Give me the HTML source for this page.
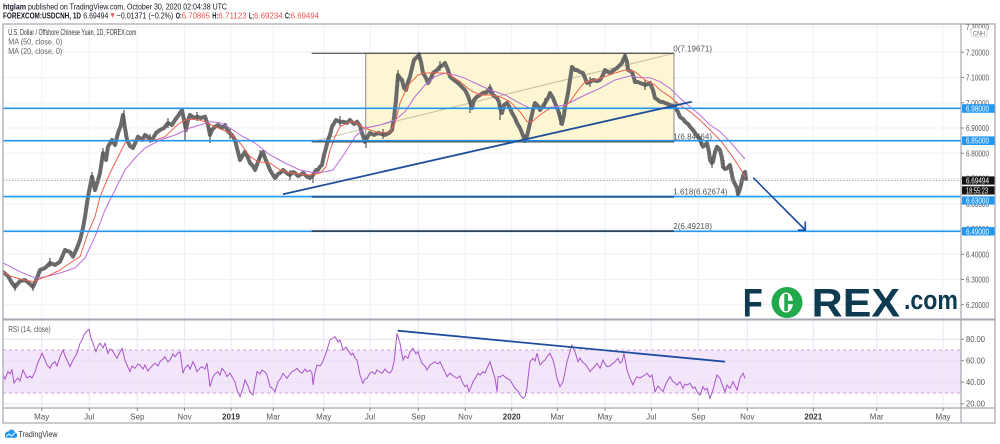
<!DOCTYPE html>
<html><head><meta charset="utf-8">
<style>
html,body{margin:0;padding:0;background:#fff;}
svg{display:block;font-family:"Liberation Sans",Arial,sans-serif;}
</style></head>
<body>
<svg width="1000" height="444" viewBox="0 0 1000 444" xmlns="http://www.w3.org/2000/svg">
<defs>
<clipPath id="cm"><rect x="3" y="24" width="958" height="295.5"/></clipPath>
<clipPath id="cr"><rect x="3" y="320" width="958" height="88"/></clipPath>
<clipPath id="ca"><rect x="962" y="24" width="33" height="295"/></clipPath>
</defs>
<rect width="1000" height="444" fill="#fff"/>

<!-- header -->
<text x="3" y="9.5" font-size="8.5" font-weight="bold" fill="#131722" textLength="23" lengthAdjust="spacingAndGlyphs">htglam</text>
<text x="28" y="9.5" font-size="8.5" fill="#131722" textLength="199" lengthAdjust="spacingAndGlyphs">published on TradingView.com, October 30, 2020 02:04:38 UTC</text>
<g font-size="8.5">
<text x="3" y="18.5" font-weight="bold" fill="#131722" textLength="78" lengthAdjust="spacingAndGlyphs">FOREXCOM:USDCNH, 1D</text>
<text x="83.3" y="18.5" fill="#131722" textLength="25" lengthAdjust="spacingAndGlyphs">6.69494</text>
<path d="M110.5 13.2h4l-2 4.5z" fill="#ef5350"/>
<text x="116.7" y="18.5" fill="#131722" textLength="56.6" lengthAdjust="spacingAndGlyphs">−0.01371 (−0.2%)</text>
<text x="175.7" y="18.5" font-weight="bold" fill="#131722" textLength="6" lengthAdjust="spacingAndGlyphs">O:</text>
<text x="181.7" y="18.5" fill="#ef5350" textLength="28.3" lengthAdjust="spacingAndGlyphs">6.70865</text>
<text x="212.3" y="18.5" font-weight="bold" fill="#131722" textLength="6" lengthAdjust="spacingAndGlyphs">H:</text>
<text x="218.3" y="18.5" fill="#ef5350" textLength="28.4" lengthAdjust="spacingAndGlyphs">6.71123</text>
<text x="249" y="18.5" font-weight="bold" fill="#131722" textLength="5" lengthAdjust="spacingAndGlyphs">L:</text>
<text x="254" y="18.5" fill="#ef5350" textLength="28.7" lengthAdjust="spacingAndGlyphs">6.69234</text>
<text x="285" y="18.5" font-weight="bold" fill="#131722" textLength="5.7" lengthAdjust="spacingAndGlyphs">C:</text>
<text x="290.7" y="18.5" fill="#ef5350" textLength="28.3" lengthAdjust="spacingAndGlyphs">6.69494</text>
</g>

<!-- grid -->
<g stroke="#eef1f6" stroke-width="1">
<path d="M3 27.05H961M3 52.3H961M3 77.55H961M3 102.8H961M3 128.05H961M3 153.3H961M3 178.55H961M3 203.8H961M3 229.05H961M3 254.3H961M3 279.55H961M3 304.8H961"/>
<path d="M41.7 24V408M89.3 24V408M137.3 24V408M184.5 24V408M231 24V408M273.3 24V408M323.7 24V408M370 24V408M418.3 24V408M465.3 24V408M511.7 24V408M557.3 24V408M605 24V408M651.3 24V408M698.3 24V408M747.3 24V408M813.3 24V408M876.7 24V408M943 24V408"/>
</g>

<!-- RSI band -->
<rect x="3" y="350" width="958" height="43" fill="#f3e6fb"/>
<g stroke="#e8e1f0" stroke-width="1">
<path d="M3 339.2H961M3 360.7H961M3 382.2H961M3 403.7H961"/>
</g>
<path d="M3 350H961M3 393H961" stroke="#c9a3d9" stroke-width="1" stroke-dasharray="3,3"/>
<path d="M41.7 320V408M89.3 320V408M137.3 320V408M184.5 320V408M231 320V408M273.3 320V408M323.7 320V408M370 320V408M418.3 320V408M465.3 320V408M511.7 320V408M557.3 320V408M605 320V408M651.3 320V408M698.3 320V408M747.3 320V408M813.3 320V408M876.7 320V408M943 320V408" stroke="#ece6f3" stroke-width="1"/>

<g clip-path="url(#cm)">
<!-- fib box -->
<rect x="365.7" y="53.3" width="308.3" height="88.4" fill="#fcf6d2" stroke="#8a8a8a" stroke-width="1"/>
<line x1="311.7" y1="141.7" x2="674" y2="53.3" stroke="#c9c0a2" stroke-width="1"/>
<!-- price ribbon -->
<polyline fill="none" stroke="#6a6a6a" stroke-width="4" stroke-linejoin="round" stroke-linecap="round" points="3,272 8,276 12,283 15,287 20,281 25,280 30,284 33,287 37,278 40,270 45,268 50,263 55,265 60,261.7 65,250 70,252 73,256.7 77,248 80,240 83,228 85,216.7 88,196.7 92,176.7 95,190 98,180 100,173 103,153 106,160 108,146.7 112,140 115,145 118,133 121,125 123,115 125,128 127,140 130,146 133,148 138,136.7 142,140 145,135 149,138 152,140 156,133 160,130 164,128 168,123 172,125 175,120 178,116 182,110 184,120 186,130 188,120 190,115 194,118 197,116.7 201,118 205,116.7 208,125 210,135 212,130 215,126.7 218,125 222,128 225,125 228,131.7 232,135 235,140 238,152 240,160 243,155 245,151.7 248,158 250,163 253,166 255,170 258,162 260,156.7 263,152 265,158 268,165 270,170 273,175 275,178 278,174 280,173 283,170 285,171.7 288,174 290,175 293,172 295,173 298,176 300,175 303,173 307,176.7 310,178 313,175 316,170 318,170 320,166.7 322,165 324,155 326,148 328,140 330,135 332,126.7 336,120 340,122 343,121.7 347,123 350,120 354,124 357,121.7 360,126 362,133 365,142 366,140 368,136 370,133 374,135 378,133 382,134 385,135 389,133 392,130 394,118 396,100 398,75 400,78 402,80 404,88 406,90 408,82 410,76.7 412,68 414,60 417,57 419,55 421,62 423,73 426,78 428,83 431,78 433,73 437,70 440,66.7 443,65 445,63 448,70 450,76.7 454,80 458,83 462,87 465,90 468,96 470,102 472,108 474,100 477,96.7 480,95 483,93 487,92 490,88 493,95 497,98 499,102 500,108 502,113 504,105 507,103 510,108 512,113 515,118 517,123 520,128 522,133 524,138 525,141 527,136 530,123 533,110 535,103 538,106 540,110 543,106 545,103 548,98 550,93 553,98 555,103 558,110 560,117 562,124 564,115 565,107 567,98 568,93 570,80 572,67 575,70 577,70 580,72 583,73 585,78 587,83 590,82 593,80 597,81 600,80 603,75 605,70 608,72 610,73 614,70 617,68 620,65 622,63 624,58 625,56 627,62 628,70 630,71 632,72 634,78 635,82 638,82 640,83 643,84 645,85 648,84 650,83 653,90 655,98 658,100 660,101.7 663,102 665,103 668,104 670,105 673,106 676,108.3 678,112 680,117 683,119 685,121.7 688,124 690,126.7 693,130 695,133 698,137 700,140 703,146.7 705,145 707,143 709,152 710,160 712,163 713,161.7 715,152 717,146.7 720,150 722,158 723,166.7 725,169 727,168.3 730,165 731,170 733,180 735,184 737,188 738,194 739,192 741,185 742,180 744,173 745,172 746,179"/>
<path d="M15 283V291M33 283V291M50 258V267M92 172V182M103 148V158M124 110V125M150 134V143M168 118V128M185 118V140M197 112V121M210 128V143M230 128V139M260 150V160M290 170V180M313 172V183M340 116V126M366 135V148M383 129V139M398 70V82M419 52V60M440 61V71M470 98V113M490 84V94M500 104V120M525 135V143M545 98V108M560 112V125M590 77V87M625 53V60M645 80V90M676 102V112M701 136V146M712 157V168M738 188V197M724 160V170" stroke="#555" stroke-width="1.2"/>
<!-- moving averages -->
<polyline fill="none" stroke="#bb6cdb" stroke-width="1" points="3,263 20,271.7 35,278 45,277 60,273 75,268 85,258 95,236.7 105,210 115,190 125,170 135,158 145,148 160,140 175,135 190,128 200,125 210,121.7 220,122.7 230,128 240,135 255,143 270,155 285,163 300,170 315,173 325,171.7 333,170 345,153 355,136.7 365,128 380,125 395,120 405,111.7 415,96.7 425,85 435,76.7 445,73 455,75 465,78.3 475,83 490,90 505,95 520,103.3 530,108.3 540,108.3 555,106.7 565,105 575,100 585,95 600,88.3 615,80 630,76 640,77.7 650,77.7 660,81.7 670,88.3 680,98.3 690,106.7 700,115 710,125 720,131.7 730,141.7 740,153.3 745,159"/>
<polyline fill="none" stroke="#f0604f" stroke-width="1" points="3,272 10,276 20,279 33,281.7 50,275 60,270 70,263 80,256.7 88,233 95,216.7 100,196.7 110,173 120,153 125,143 132,140 140,140 155,140 165,136.7 175,127 180,123 185,120 195,119 205,121.7 215,126.7 230,133 240,143 250,156.7 258,161.7 270,163 280,170 290,173 300,174 310,175 316,174 320,173 326,166.7 330,150 335,136.7 340,126.7 350,121.7 355,121.7 362,126.7 370,130 380,133 390,131.7 395,123 400,103 405,91.7 410,83 418,75 425,73 435,73 445,73 450,75 460,81.7 470,90 480,95 490,95 500,96.7 510,101.7 520,111.7 527,121.7 532,121.7 540,115 550,108.3 560,108.3 565,106.7 570,101.7 577,91.7 585,81.7 595,80 605,76.7 615,73 625,70 635,71.7 645,80 655,85 660,90 670,96.7 680,105 690,111.7 700,120 710,130 720,140 730,153.3 737,163.3 745,176.7"/>
<!-- last price dotted -->
<line x1="3" y1="180.3" x2="961" y2="180.3" stroke="#9a9a9a" stroke-width="0.8" stroke-dasharray="1.5,1.5"/>
<!-- blue horizontal lines -->
<g stroke="#2196f3" stroke-width="1.6">
<line x1="3" y1="108.3" x2="961" y2="108.3"/>
<line x1="3" y1="140.7" x2="961" y2="140.7"/>
<line x1="3" y1="196.6" x2="961" y2="196.6"/>
<line x1="3" y1="231.3" x2="961" y2="231.3"/>
</g>
<!-- fib level lines -->
<line x1="311.7" y1="53.3" x2="674" y2="53.3" stroke="#4a4a4a" stroke-width="1.2"/>
<line x1="311.7" y1="141.9" x2="674" y2="141.9" stroke="#555" stroke-width="1.1"/>
<line x1="311.7" y1="196.8" x2="674" y2="196.8" stroke="#1f5aa6" stroke-width="2"/>
<line x1="311.7" y1="231.1" x2="674" y2="231.1" stroke="#2a3a4a" stroke-width="1.6"/>
<g font-size="8" fill="#555">
<text x="673.3" y="51.5">0(7.19671)</text>
<text x="673.3" y="139.5">1(6.84464)</text>
<text x="673.3" y="194.5">1.618(6.62674)</text>
<text x="673.3" y="229">2(6.49218)</text>
</g>
<!-- trendline -->
<line x1="283" y1="194.3" x2="691.7" y2="101.7" stroke="#1f4e9c" stroke-width="1.8"/>
<!-- arrow -->
<g stroke="#1f4e9c" stroke-width="1.6" fill="none">
<line x1="753.3" y1="177.7" x2="805.3" y2="230"/>
<path d="M805.3 221.5V230.2H797.8"/>
</g>
<!-- FOREX logo -->
<g fill="#0f3b51" font-weight="bold">
<text x="742.7" y="316.7" font-size="40" textLength="20" lengthAdjust="spacingAndGlyphs">F</text>
<text x="811.7" y="316.7" font-size="40" textLength="88.3" lengthAdjust="spacingAndGlyphs">REX</text>
<text x="904" y="309" font-size="27" textLength="54" lengthAdjust="spacingAndGlyphs">.com</text>
</g>
<circle cx="787" cy="302.5" r="15.5" fill="#22a94b"/>
<ellipse cx="786" cy="302.5" rx="7" ry="10" fill="#fff"/>
<rect x="784.3" y="294" width="3.6" height="17" fill="#22a94b"/>
<rect x="786" y="300.8" width="14" height="3.4" fill="#22a94b"/>
</g>

<!-- RSI -->
<g clip-path="url(#cr)">
<polyline fill="none" stroke="#a855c8" stroke-width="1" points="3,375 5,379 8,371.7 10,374 12,370 14,383 16,380 18,378 20,381 23,370 25,374 27,378 30,376 32,378 35,372 37,365 40,358 42,353.3 45,360 47,365 50,368.3 52,364 55,361.7 57,366 60,356.7 63,350 65,356 67,360 70,366.7 73,360 75,357 77,353.3 80,343.3 82,340 84,335 86,332 89,329.3 91,338 93,343.3 96,351.7 98,346 100,343.3 103,348 105,343.3 108,353.3 110,349 112,350 115,355 117,358.3 120,352 122,348.3 125,360 127,365 130,371.7 132,366 135,368.3 138,364 140,365 143,369 145,365 148,371 150,368.3 153,365 155,363.3 158,366 160,361.7 163,359 165,356.7 168,362 170,360 173,354 175,356.7 178,353 180,351.7 183,373.3 185,368 188,365 190,369 193,361.7 195,366 197,371.7 200,368 202,366.7 205,369 207,363.3 210,386.7 213,376.7 215,374 218,371.7 220,375 222,368.3 225,372 227,376.7 230,373 232,376.7 235,382 237,390 240,396.7 243,388 245,380 248,386 250,391.7 253,395 255,383 257,371.7 260,374 262,370 265,372 267,375 270,386.7 273,389 275,391.7 278,381.7 281,378 283,373.3 287,378.3 290,374 292,371.7 295,370 297,368.3 300,372 302,373.3 305,369 307,371.7 310,370 312,373.3 313,385 315,372 317,365 320,366 322,363.3 325,356 327,350 330,340 333,338 335,336.7 338,342 340,340 343,350 346,347 348,350 351,355 353,353.3 355,358 357,360 360,375 363,383.3 365,379 367,378.3 370,373 372,371.7 375,374 377,370 380,372 382,373.3 385,369 387,371.7 390,373 392,370 394,362 395,353.3 397,333.3 399,340 400,343.3 403,360 405,356 408,358.3 410,352 413,348.3 416,354 418,351.7 420,358 422,363.3 425,366 427,370 430,365 433,363 435,361.7 438,364 440,361.7 443,368.3 445,372 447,376.7 450,373 452,375 455,377 457,378.3 460,376 462,381.7 465,386.7 467,385 469,391.7 471,387 473,381.7 476,377 478,373.3 480,375 483,371.7 485,373 487,368.3 490,361.7 493,371.7 495,378 497,391.7 498,376.7 500,377 503,375 505,377 507,378.3 510,380 512,383.3 515,388.3 518,391 520,395 523,398.3 525,396.7 527,388 528,378.3 530,361.7 533,358.3 535,361 537,353.3 540,365 543,361.7 545,360 547,356.7 550,353.3 553,360 555,368 557,378.3 560,386.7 563,381.7 565,372 567,361.7 570,351.7 572,345 575,351.7 578,361.7 580,358 582,361.7 585,364 587,366.7 590,371.7 593,368.3 595,366 597,363.3 600,368.3 603,360 605,364 607,366.7 610,366 612,364 615,361.7 618,358.3 620,363 622,361.7 624,353.3 627,370 630,378.3 633,385 635,380 637,376.7 640,378 642,376.7 645,375 647,373.3 650,377 652,375 655,391.7 658,386 660,388.3 663,391.7 665,386 667,381.7 670,376.7 673,381.7 675,383 677,385 680,381.7 683,388.3 685,384 687,385 690,383.3 693,388.3 695,387 697,391.7 700,395 703,386.7 705,390 707,388.3 710,398.3 713,390 715,382 717,375 720,378.3 723,386.7 725,391.7 727,385 730,388.3 733,381.7 735,386 737,390 740,378.3 743,373.3 745,378.3"/>
<line x1="397.7" y1="330.7" x2="725" y2="361.7" stroke="#1f4e9c" stroke-width="1.8"/>
</g>

<!-- legend -->
<text x="8.3" y="35" font-size="8" fill="#333" textLength="128" lengthAdjust="spacingAndGlyphs">U.S. Dollar / Offshore Chinese Yuan, 1D, FOREX.com</text>
<text x="8.3" y="44.5" font-size="8" fill="#666" textLength="54" lengthAdjust="spacingAndGlyphs">MA (50, close, 0)</text>
<text x="8.3" y="54" font-size="8" fill="#666" textLength="54" lengthAdjust="spacingAndGlyphs">MA (20, close, 0)</text>
<text x="8.3" y="332" font-size="8" fill="#555" textLength="42.4" lengthAdjust="spacingAndGlyphs">RSI (14, close)</text>

<!-- borders -->
<rect x="3" y="24" width="992" height="399" fill="none" stroke="#a4a7b0" stroke-width="1.2"/>
<line x1="961" y1="24" x2="961" y2="423" stroke="#a4a7b0" stroke-width="1.2"/>
<line x1="3" y1="319.5" x2="995" y2="319.5" stroke="#a4a7b0" stroke-width="2"/>
<line x1="3" y1="408" x2="995" y2="408" stroke="#a4a7b0" stroke-width="1.2"/>

<!-- price axis labels -->
<g stroke="#888" stroke-width="1">
<path d="M961 52.3h3M961 77.55h3M961 102.8h3M961 128.05h3M961 153.3h3M961 178.55h3M961 203.8h3M961 229.05h3M961 254.3h3M961 279.55h3M961 304.8h3M961 339.2h3M961 360.7h3M961 382.2h3M961 403.7h3"/>
</g>
<g font-size="7.8" fill="#555" clip-path="url(#ca)">
<text x="966" y="30" textLength="23" lengthAdjust="spacingAndGlyphs">7.30000</text>
<text x="966" y="55.3" textLength="23" lengthAdjust="spacingAndGlyphs">7.20000</text>
<text x="966" y="80.5" textLength="23" lengthAdjust="spacingAndGlyphs">7.10000</text>
<text x="966" y="105.8" textLength="23" lengthAdjust="spacingAndGlyphs">7.00000</text>
<text x="966" y="131" textLength="23" lengthAdjust="spacingAndGlyphs">6.90000</text>
<text x="966" y="156.3" textLength="23" lengthAdjust="spacingAndGlyphs">6.80000</text>
<text x="966" y="181.5" textLength="23" lengthAdjust="spacingAndGlyphs">6.70000</text>
<text x="966" y="206.8" textLength="23" lengthAdjust="spacingAndGlyphs">6.60000</text>
<text x="966" y="232" textLength="23" lengthAdjust="spacingAndGlyphs">6.50000</text>
<text x="966" y="257.3" textLength="23" lengthAdjust="spacingAndGlyphs">6.40000</text>
<text x="966" y="282.5" textLength="23" lengthAdjust="spacingAndGlyphs">6.30000</text>
<text x="966" y="307.8" textLength="23" lengthAdjust="spacingAndGlyphs">6.20000</text>
</g>
<g font-size="7.8" fill="#555">
<text x="966" y="342.2" textLength="19" lengthAdjust="spacingAndGlyphs">80.00</text>
<text x="966" y="363.7" textLength="19" lengthAdjust="spacingAndGlyphs">60.00</text>
<text x="966" y="385.2" textLength="19" lengthAdjust="spacingAndGlyphs">40.00</text>
<text x="966" y="406.5" textLength="19" lengthAdjust="spacingAndGlyphs">20.00</text>
</g>
<!-- CNH box -->
<rect x="971" y="28" width="16" height="9" rx="2" fill="#fff" stroke="#c8cbd2" stroke-width="0.8"/>
<text x="973" y="35.3" font-size="6.5" fill="#666" textLength="12" lengthAdjust="spacingAndGlyphs">CNH</text>
<!-- highlighted labels -->
<g font-size="7.8" fill="#fff">
<rect x="962" y="104.2" width="32.5" height="8.6" fill="#2196f3"/>
<text x="966" y="111.5" textLength="23" lengthAdjust="spacingAndGlyphs">6.98000</text>
<rect x="962" y="136.4" width="32.5" height="8.6" fill="#2196f3"/>
<text x="966" y="143.7" textLength="23" lengthAdjust="spacingAndGlyphs">6.85000</text>
<rect x="962" y="176.4" width="32.5" height="8.2" fill="#131313"/>
<text x="966" y="183.5" textLength="23" lengthAdjust="spacingAndGlyphs">6.69494</text>
<rect x="962" y="186.3" width="32.5" height="8.2" fill="#131313"/>
<text x="966" y="193.4" textLength="22" lengthAdjust="spacingAndGlyphs">18:55:23</text>
<rect x="962" y="196.4" width="32.5" height="8.2" fill="#2196f3"/>
<text x="966" y="203.5" textLength="23" lengthAdjust="spacingAndGlyphs">6.63000</text>
<rect x="962" y="227.1" width="32.5" height="8.4" fill="#2196f3"/>
<text x="966" y="234.3" textLength="23" lengthAdjust="spacingAndGlyphs">6.49000</text>
</g>

<!-- time axis -->
<path d="M41.7 408v3M89.3 408v3M137.3 408v3M184.5 408v3M231 408v3M273.3 408v3M323.7 408v3M370 408v3M418.3 408v3M465.3 408v3M511.7 408v3M557.3 408v3M605 408v3M651.3 408v3M698.3 408v3M747.3 408v3M813.3 408v3M876.7 408v3M943 408v3" stroke="#888" stroke-width="1"/>
<g font-size="8" fill="#555" text-anchor="middle">
<text x="41.7" y="419.5">May</text>
<text x="89.3" y="419.5">Jul</text>
<text x="137.3" y="419.5">Sep</text>
<text x="184.5" y="419.5">Nov</text>
<text x="231" y="419.5" font-weight="bold" fill="#333">2019</text>
<text x="273.3" y="419.5">Mar</text>
<text x="323.7" y="419.5">May</text>
<text x="370" y="419.5">Jul</text>
<text x="418.3" y="419.5">Sep</text>
<text x="465.3" y="419.5">Nov</text>
<text x="511.7" y="419.5" font-weight="bold" fill="#333">2020</text>
<text x="557.3" y="419.5">Mar</text>
<text x="605" y="419.5">May</text>
<text x="651.3" y="419.5">Jul</text>
<text x="698.3" y="419.5">Sep</text>
<text x="747.3" y="419.5">Nov</text>
<text x="813.3" y="419.5" font-weight="bold" fill="#333">2021</text>
<text x="876.7" y="419.5">Mar</text>
<text x="943" y="419.5">May</text>
</g>

<!-- TradingView logo -->
<g fill="#2196f3">
<circle cx="8" cy="434.5" r="3"/>
<circle cx="11.5" cy="432.8" r="3.3"/>
<circle cx="14.5" cy="435" r="2.6"/>
<rect x="5" y="434.5" width="12" height="3.3" rx="1.5"/>
</g>
<path d="M6 436.5l3-2.5 2.5 2 3.5-3" stroke="#fff" stroke-width="0.9" fill="none"/>
<text x="18.5" y="437" font-size="8.5" fill="#333" textLength="39" lengthAdjust="spacingAndGlyphs">TradingView</text>
</svg>
</body></html>
